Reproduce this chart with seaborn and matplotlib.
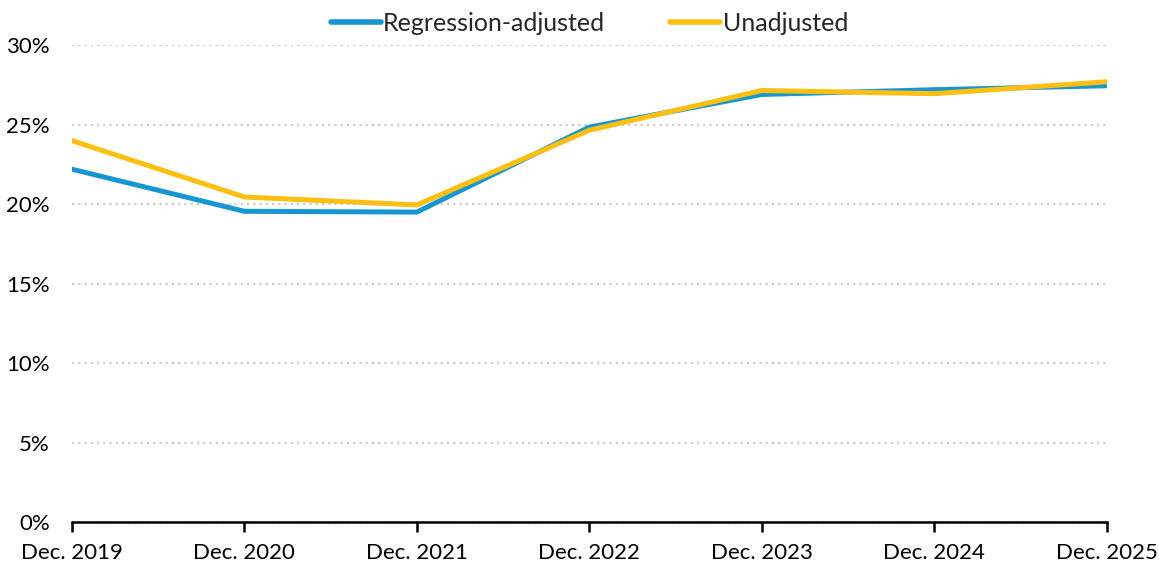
import pandas as pd
import seaborn as sns
import matplotlib.pyplot as plt
from matplotlib.ticker import FuncFormatter

periods = ['Dec. 2019', 'Dec. 2020', 'Dec. 2021', 'Dec. 2022', 'Dec. 2023', 'Dec. 2024', 'Dec. 2025']
regression_adjusted = [22.2, 19.55, 19.5, 24.85, 26.9, 27.2, 27.45]
unadjusted = [24.0, 20.45, 19.95, 24.65, 27.15, 26.95, 27.7]
series_names = ['Regression-adjusted', 'Unadjusted']
colors = ['#1696d2', '#fdbf11']

sns.set_theme(style='white')
plt.rcParams['font.family'] = ['Lato', 'DejaVu Sans']
plt.rcParams['font.size'] = 16

df = pd.DataFrame({
    'period': periods * 2,
    'value': regression_adjusted + unadjusted,
    'series': [series_names[0]] * len(periods) + [series_names[1]] * len(periods),
})

fig, ax = plt.subplots(figsize=(11.59, 5.65), dpi=100)
fig.subplots_adjust(left=0.062, right=0.955, top=0.92, bottom=0.076)

sns.lineplot(data=df, x='period', y='value', hue='series', palette=colors,
             linewidth=3.6, ax=ax, sort=False)

ax.set_ylim(0, 30)
ax.set_xlim(0, len(periods) - 1)
ax.set_yticks(range(0, 31, 5))
ax.yaxis.set_major_formatter(FuncFormatter(lambda v, p: f'{v:.0f}%'))
ax.yaxis.grid(True, color='#c8c8c8', linestyle=(0, (1, 2)), linewidth=1.5)
ax.set_axisbelow(True)

for side in ['top', 'right', 'left']:
    ax.spines[side].set_visible(False)
ax.spines['bottom'].set_color('black')
ax.spines['bottom'].set_linewidth(1.8)

ax.tick_params(axis='x', bottom=True, length=7, width=1.8, color='black',
               labelsize=16, pad=8, labelcolor='black')
ax.tick_params(axis='y', left=False, labelsize=16, pad=10, labelcolor='black')
ax.set_xlabel('')
ax.set_ylabel('')

ax.legend(loc='lower center', bbox_to_anchor=(0.5, 1.0), ncol=2, frameon=False,
          fontsize=18, handlelength=2.0, handletextpad=0.1, columnspacing=2.6,
          borderaxespad=0.0)
for line in ax.get_legend().get_lines():
    line.set_linewidth(4)

fig.savefig('out.png', dpi=100)
